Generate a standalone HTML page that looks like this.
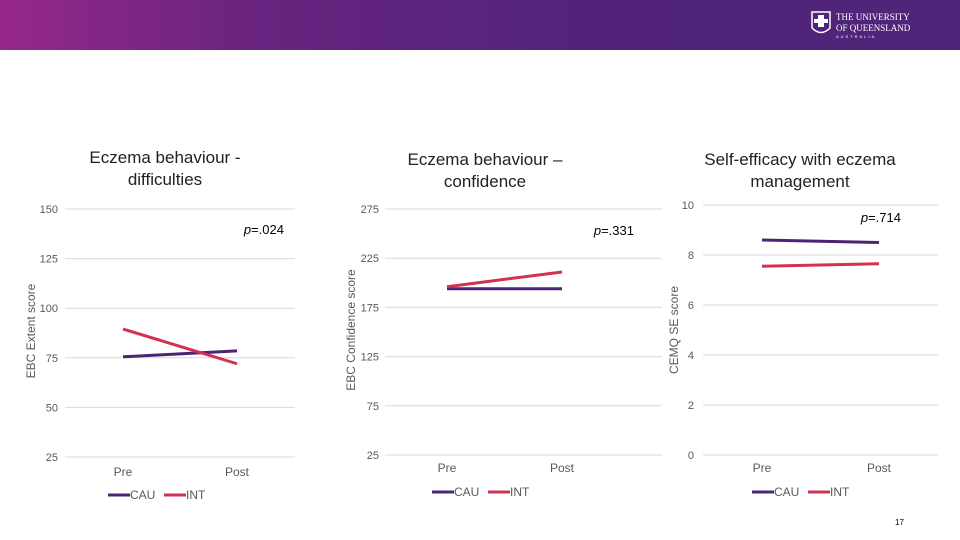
<!DOCTYPE html>
<html><head><meta charset="utf-8"><style>
body{margin:0;width:960px;height:540px;background:#fff;overflow:hidden;font-family:"Liberation Sans",sans-serif;position:relative}
#hdr{position:absolute;left:0;top:0;width:960px;height:50px;background:linear-gradient(90deg,#96288a 0%,#6a2480 25%,#51247a 60%,#4f2479 100%)}
.t{position:absolute;text-align:center;font-size:17px;color:#222;line-height:22px}
</style></head><body>
<div id="hdr">
 <svg width="960" height="50">
  <path d="M812 12 h18 v16 q-9 9 -18 0z" fill="none" stroke="#fff" stroke-width="1.5"/>
  <path d="M818 15 h6 v4 h4 v4 h-4 v4 h-6 v-4 h-4 v-4 h4z" fill="#fff"/>
  <text x="836" y="20" fill="#fff" font-size="9" font-family="Liberation Serif">THE UNIVERSITY</text>
  <text x="836" y="31" fill="#fff" font-size="9" font-family="Liberation Serif">OF QUEENSLAND</text>
  <text x="836" y="38" fill="#fff" font-size="4" letter-spacing="2">AUSTRALIA</text>
 </svg>
</div>
<div class="t" style="left:60px;top:147px;width:210px">Eczema behaviour -<br>difficulties</div>
<div class="t" style="left:380px;top:149px;width:210px">Eczema behaviour –<br>confidence</div>
<div class="t" style="left:690px;top:149px;width:220px">Self-efficacy with eczema<br>management</div>
<svg id="c" width="960" height="540" style="position:absolute;left:0;top:0"></svg>
<div style="position:absolute;left:895px;top:518px;font-size:8px">17</div>
<script>
const categories=["Pre","Post"];
const c1CAU=[75.5,78.5], c1INT=[89.5,72];
const c2CAU=[194,194], c2INT=[196,211];
const c3CAU=[8.6,8.5], c3INT=[7.55,7.65];
const c1Ticks=[25,50,75,100,125,150];
const c2Ticks=[25,75,125,175,225,275];
const c3Ticks=[0,2,4,6,8,10];
const svg=document.getElementById('c');const NS="http://www.w3.org/2000/svg";
function mk(t,a){const e=document.createElementNS(NS,t);for(const k in a)e.setAttribute(k,a[k]);svg.appendChild(e);return e;}
function chart(o){
 const y=v=>o.y0-(v-o.min)/(o.max-o.min)*(o.y0-o.y1);
 const x=i=>o.xs[i];
 o.ticks.forEach(t=>{
  const g=mk('line',{x1:o.gx0,x2:o.gx1,y1:y(t),y2:y(t),stroke:'#d9d9d9','stroke-width':1});
  
  const l=mk('text',{x:o.lx,y:y(t)+4,'text-anchor':'end','font-size':11,fill:'#595959'});l.textContent=t;
  
 });
 categories.forEach((c,i)=>{const l=mk('text',{x:x(i),y:o.catY,'text-anchor':'middle','font-size':12,fill:'#595959'});l.textContent=c;
  });
 [[o.cau,'#4b2473','cau-line'],[o.int,'#d4304f','int-line']].forEach(([d,col,n])=>{
  const p=mk('polyline',{points:d.map((v,i)=>x(i)+','+y(v)).join(' '),fill:'none',stroke:col,'stroke-width':3});
  
 });
 const yt=mk('text',{transform:`translate(${o.ytx},${o.ytc}) rotate(-90)`,'text-anchor':'middle','font-size':12,fill:'#595959'});yt.textContent=o.ytitle;
 
 const pt=mk('text',{x:o.px,y:o.py,'text-anchor':'end','font-size':13,fill:'#000'});pt.innerHTML='<tspan font-style="italic">p</tspan>='+o.p;
 
 const lx=o.legX;
 const l1=mk('line',{x1:lx,x2:lx+22,y1:o.legY-4,y2:o.legY-4,stroke:'#4b2473','stroke-width':3});
 const t1=mk('text',{x:lx+22,y:o.legY,'font-size':12,fill:'#595959'});t1.textContent='CAU';
 const l2=mk('line',{x1:lx+56,x2:lx+78,y1:o.legY-4,y2:o.legY-4,stroke:'#d4304f','stroke-width':3});
 const t2=mk('text',{x:lx+78,y:o.legY,'font-size':12,fill:'#595959'});t2.textContent='INT';
}
chart({min:25,max:150,y0:457,y1:209,gx0:65,gx1:295,lx:58,xs:[123,237],catY:476,cau:c1CAU,int:c1INT,ticks:c1Ticks,ytitle:'EBC Extent score',ytx:35,ytc:331,p:'.024',px:284,py:234,legX:108,legY:499});
chart({min:25,max:275,y0:455,y1:209,gx0:385,gx1:662,lx:379,xs:[447,562],catY:472,cau:c2CAU,int:c2INT,ticks:c2Ticks,ytitle:'EBC Confidence score',ytx:355,ytc:330,p:'.331',px:634,py:235,legX:432,legY:496});
chart({min:0,max:10,y0:455,y1:205,gx0:703,gx1:938,lx:694,xs:[762,879],catY:472,cau:c3CAU,int:c3INT,ticks:c3Ticks,ytitle:'CEMQ SE score',ytx:678,ytc:330,p:'.714',px:901,py:222,legX:752,legY:496});
</script>
</body></html>
